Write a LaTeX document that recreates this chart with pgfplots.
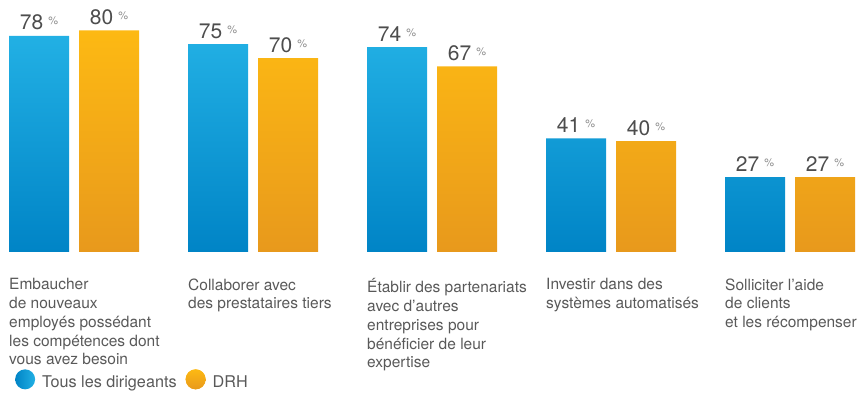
\documentclass[border=0pt]{standalone}
\usepackage{fontspec}
\setmainfont{TeX Gyre Heros}
\usepackage{pgfplots}
\pgfplotsset{compat=1.18}

\definecolor{blueTop}{HTML}{22B0E4}
\definecolor{blueMid}{HTML}{08A5DF}
\definecolor{blueBot}{HTML}{0084C6}
\definecolor{orTop}{HTML}{FDB913}
\definecolor{orMid}{HTML}{F4AA18}
\definecolor{orBot}{HTML}{E8991C}
\definecolor{numgray}{HTML}{4D4D4D}
\definecolor{pctgray}{HTML}{8C8C8C}
\definecolor{txtgray}{HTML}{595959}

\begin{document}
\begin{tikzpicture}
\begin{axis}[
  width=861pt, height=393pt, scale only axis,
  xmin=-0.41341, xmax=4.39665,
  ymin=-50.90, ymax=90.97,
  axis line style={draw=none},
  ytick=\empty,
  xtick={0,1,2,3,4},
  xtick style={draw=none},
  xticklabels={
    {Embaucher\\de nouveaux\\employés possédant\\les compétences dont\\vous avez besoin},
    {Collaborer avec\\des prestataires tiers},
    {Établir des partenariats\\avec d’autres\\entreprises pour\\bénéficier de leur\\expertise},
    {Investir dans des\\systèmes automatisés},
    {Solliciter l’aide\\de clients\\et les récompenser}},
  xticklabel style={align=left, anchor=north west, inner sep=0pt,
    xshift=-65pt, yshift=119pt, text=txtgray,
    font=\fontsize{15.5pt}{18.8pt}\selectfont},
  ybar, bar width=60pt,
  /pgf/number format/assume math mode=true,
  nodes near coords={\pgfmathprintnumber{\pgfplotspointmeta}\hspace{5pt}\raisebox{5pt}{\fontsize{11pt}{11pt}\selectfont\color{pctgray}\%}},
  nodes near coords style={anchor=base, inner sep=0pt, yshift=6pt,
    text=numgray, font=\fontsize{21pt}{21pt}\selectfont},
  legend style={at={(axis cs:-0.33,-46.0)}, anchor=west, draw=none, fill=none,
    legend columns=-1, inner sep=0pt, nodes={inner sep=0pt}, text=txtgray,
    font=\fontsize{16.2pt}{18pt}\selectfont,
    /tikz/every odd column/.append style={column sep=7pt},
    /tikz/every even column/.append style={column sep=9pt}},
  legend cell align=left,
  clip=false,
]
% Tous les dirigeants
\addplot[draw=none, bar shift=-35pt, top color=blueTop, middle color=blueMid, bottom color=blueBot,
  legend image code/.code={\shade[left color=blueBot, right color=blueTop] (10pt,0.35em) circle (10pt);}]
  coordinates {(0,78) (1,75) (2,74) (3,41) (4,27)};
\addlegendentry{Tous les dirigeants}
% DRH
\addplot[draw=none, bar shift=35pt, top color=orTop, middle color=orMid, bottom color=orBot,
  legend image code/.code={\fill[orTop] (10pt,0.35em) circle (10pt);}]
  coordinates {(0,80) (1,70) (2,67) (3,40) (4,27)};
\addlegendentry{DRH}
\end{axis}
\pgfresetboundingbox
\path (current axis.south west) rectangle (current axis.north east);
\end{tikzpicture}
\end{document}
